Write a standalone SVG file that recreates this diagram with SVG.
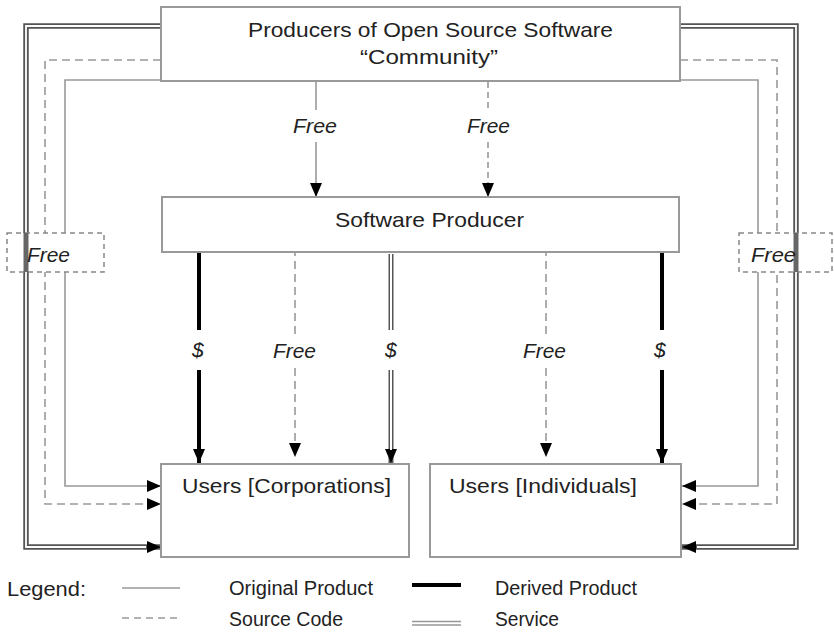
<svg xmlns="http://www.w3.org/2000/svg" width="834" height="632" viewBox="0 0 834 632">
<style>
  .box { fill: #fff; stroke: #999; stroke-width: 2; }
  .lbl { font-family: "Liberation Sans", Arial, sans-serif; font-size: 21px; fill: #222; }
  .lg { font-family: "Liberation Sans", Arial, sans-serif; font-size: 20px; fill: #222; }
  .it { font-family: "Liberation Sans", Arial, sans-serif; font-size: 21px; font-style: italic; fill: #222; }
  .orig { fill: none; stroke: #999; stroke-width: 1.6; }
  .src { fill: none; stroke: #999; stroke-width: 1.6; stroke-dasharray: 8 5; }
  .der { fill: none; stroke: #000; stroke-width: 4; }
  .svcO { fill: none; stroke: #555; stroke-width: 5.5; }
  .svcI { fill: none; stroke: #fff; stroke-width: 1.8; }
  .lblbox { fill: #fff; stroke: #888; stroke-width: 1.5; stroke-dasharray: 5 4; }
</style>
<defs>
  <marker id="ah" viewBox="0 0 14 12" refX="14" refY="6" markerWidth="14" markerHeight="12" markerUnits="userSpaceOnUse" orient="auto">
    <path d="M0,0 L14,6 L0,12 z" fill="#000"/>
  </marker>
</defs>
<rect width="834" height="632" fill="#fff"/>

<g id="connectors">
  <!-- left loops -->
  <path class="svcO" d="M161,26 H26 V547 H161" marker-end="url(#ah)"/>
  <path class="svcI" d="M161,26 H26 V547 H146"/>
  <path class="src" d="M161,60 H45 V504 H161" marker-end="url(#ah)"/>
  <path class="orig" d="M161,80 H65 V486 H161" marker-end="url(#ah)"/>
  <!-- right loops -->
  <path class="svcO" d="M680,26 H796 V547 H682" marker-end="url(#ah)"/>
  <path class="svcI" d="M680,26 H796 V547 H697"/>
  <path class="src" d="M680,60 H777 V504 H682" marker-end="url(#ah)"/>
  <path class="orig" d="M680,80 H758 V486 H682" marker-end="url(#ah)"/>

  <!-- top to Software Producer -->
  <path class="orig" d="M316,82 V110"/>
  <path class="orig" d="M316,142 V197" marker-end="url(#ah)"/>
  <path class="src" d="M488,82 V110" style="stroke-dasharray:6 4"/>
  <path class="src" d="M488,142 V197" style="stroke-dasharray:6 4" marker-end="url(#ah)"/>

  <!-- Software Producer to users -->
  <path class="der" d="M199,252 V330"/>
  <path class="der" d="M199,370 V463" marker-end="url(#ah)"/>
  <path class="src" d="M295,248 V335"/>
  <path class="src" d="M295,368 V457" marker-end="url(#ah)"/>
  <path class="svcO" d="M391,254 V330" style="stroke-width:5"/>
  <path class="svcI" d="M391,254 V330" style="stroke-width:2"/>
  <path class="svcO" d="M391,370 V463" style="stroke-width:5" marker-end="url(#ah)"/>
  <path class="svcI" d="M391,370 V450" style="stroke-width:2"/>
  <path class="src" d="M546,248 V335"/>
  <path class="src" d="M546,368 V457" marker-end="url(#ah)"/>
  <path class="der" d="M662,252 V330"/>
  <path class="der" d="M662,370 V463" marker-end="url(#ah)"/>

  <!-- side label boxes -->
  <rect class="lblbox" x="7" y="233" width="97" height="39"/>
  <path d="M26,233 V272" stroke="#666" stroke-width="5"/>
  <rect class="lblbox" x="739" y="233" width="93" height="39"/>
  <path d="M796,233 V272" stroke="#666" stroke-width="5"/>

  <!-- connector labels -->
  <text class="it" x="293" y="133" textLength="44" lengthAdjust="spacingAndGlyphs">Free</text>
  <text class="it" x="467" y="133" textLength="43" lengthAdjust="spacingAndGlyphs">Free</text>
  <text class="it" x="192" y="357">$</text>
  <text class="it" x="273" y="358" textLength="43" lengthAdjust="spacingAndGlyphs">Free</text>
  <text class="it" x="385" y="357">$</text>
  <text class="it" x="523" y="358" textLength="43" lengthAdjust="spacingAndGlyphs">Free</text>
  <text class="it" x="654" y="357">$</text>
  <text class="it" x="27" y="262" textLength="43" lengthAdjust="spacingAndGlyphs">Free</text>
  <text class="it" x="751" y="262" textLength="45" lengthAdjust="spacingAndGlyphs">Free</text>
</g>

<g id="community">
  <rect class="box" x="161" y="7" width="519" height="74"/>
  <text class="lbl" x="248" y="37" textLength="365" lengthAdjust="spacingAndGlyphs">Producers of Open Source Software</text>
  <text class="lbl" x="360" y="64" textLength="138" lengthAdjust="spacingAndGlyphs">“Community”</text>
</g>

<g id="software-producer">
  <rect class="box" x="162" y="197" width="517" height="55"/>
  <text class="lbl" x="335" y="227" textLength="189" lengthAdjust="spacingAndGlyphs">Software Producer</text>
</g>

<g id="users-corporations">
  <rect class="box" x="161" y="464" width="248" height="93"/>
  <text class="lbl" x="182" y="493" textLength="209" lengthAdjust="spacingAndGlyphs">Users [Corporations]</text>
</g>

<g id="users-individuals">
  <rect class="box" x="430" y="464" width="251" height="93"/>
  <text class="lbl" x="449" y="493" textLength="188" lengthAdjust="spacingAndGlyphs">Users [Individuals]</text>
</g>

<g id="legend">
  <text class="lg" x="7" y="596" textLength="79" lengthAdjust="spacingAndGlyphs">Legend:</text>
  <line class="orig" x1="122" y1="588" x2="180" y2="588"/>
  <line class="src" x1="122" y1="618" x2="180" y2="618" style="stroke-dasharray:7 5"/>
  <text class="lg" x="229" y="595" textLength="144" lengthAdjust="spacingAndGlyphs">Original Product</text>
  <text class="lg" x="229" y="626" textLength="114" lengthAdjust="spacingAndGlyphs">Source Code</text>
  <line class="der" x1="412" y1="585" x2="461" y2="585"/>
  <line x1="412" y1="621.5" x2="461" y2="621.5" stroke="#999" stroke-width="1.6"/>
  <line x1="412" y1="625" x2="461" y2="625" stroke="#999" stroke-width="1.6"/>
  <text class="lg" x="495" y="595" textLength="142" lengthAdjust="spacingAndGlyphs">Derived Product</text>
  <text class="lg" x="495" y="626" textLength="64" lengthAdjust="spacingAndGlyphs">Service</text>
</g>
</svg>
